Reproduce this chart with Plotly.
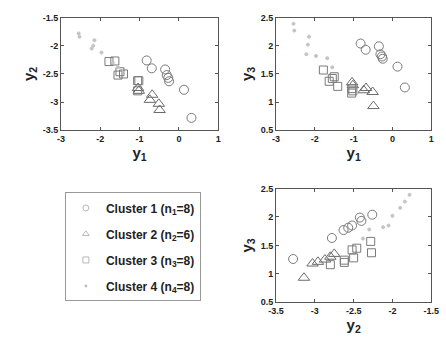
import plotly.graph_objects as go

# ---- data (y1, y2, y3) per cluster ----
c1_y1 = [-0.82, -0.69, -0.35, -0.31, -0.27, -0.25, 0.13, 0.32]
c1_y2 = [-2.26, -2.40, -2.42, -2.52, -2.57, -2.63, -2.78, -3.28]
c1_y3 = [2.04, 1.93, 1.99, 1.85, 1.81, 1.77, 1.63, 1.26]

c2_y1 = [-0.49, -0.51, -0.74, -0.68, -1.04, -1.02]
c2_y2 = [-3.14, -3.03, -2.96, -2.87, -2.75, -2.80]
c2_y3 = [0.93, 1.18, 1.21, 1.25, 1.35, 1.30]

c3_y1 = [-1.78, -1.63, -1.41, -1.50, -1.05, -1.05, -1.55, -1.02]
c3_y2 = [-2.28, -2.27, -2.50, -2.46, -2.62, -2.80, -2.52, -2.62]
c3_y3 = [1.57, 1.37, 1.28, 1.45, 1.24, 1.16, 1.42, 1.20]

c4_y1 = [-2.55, -2.53, -2.15, -2.18, -2.22, -1.97, -1.68, -1.55]
c4_y2 = [-1.78, -1.84, -1.90, -2.00, -2.05, -2.12, -2.30, -2.38]
c4_y3 = [2.39, 2.27, 2.16, 2.02, 1.85, 1.82, 1.78, 1.62]

legend_names = ["Cluster 1 (n<sub>1</sub>=8)", "Cluster 2 (n<sub>2</sub>=6)",
                "Cluster 3 (n<sub>3</sub>=8)", "Cluster 4 (n<sub>4</sub>=8)"]

y1_ticks = [-3, -2, -1, 0, 1]
y1_text = ["-3", "-2", "-1", "0", "1"]
y2_ticks = [-3.5, -3, -2.5, -2, -1.5]
y2_text = ["-3.5", "-3", "-2.5", "-2", "-1.5"]
y3_ticks = [0.5, 1, 1.5, 2, 2.5]
y3_text = ["0.5", "1", "1.5", "2", "2.5"]

clusters = [
    (c1_y1, c1_y2, c1_y3, "circle-open", 9, "#7a7a7a"),
    (c2_y1, c2_y2, c2_y3, "triangle-up-open", 10, "#6a6a6a"),
    (c3_y1, c3_y2, c3_y3, "square-open", 8, "#7a7a7a"),
    (c4_y1, c4_y2, c4_y3, "circle", 3, "#c4c4c4"),
]

fig = go.Figure()
panels = [("x", "y", 0, 1), ("x2", "y2", 0, 2), ("x3", "y3", 1, 2)]
for (a, b, c, sym, sz, col) in clusters:
    dims = [a, b, c]
    for xa, ya, i, j in panels:
        fig.add_trace(go.Scatter(
            x=dims[i], y=dims[j], mode="markers", xaxis=xa, yaxis=ya,
            marker=dict(symbol=sym, size=sz, color=col, line=dict(color=col, width=1)),
            showlegend=False, hoverinfo="skip"))

# legend-only entries (smaller, lighter markers like the reference)
leg_syms = ["circle-open", "triangle-up-open", "square-open", "circle"]
for k, (name, sym) in enumerate(zip(legend_names, leg_syms)):
    fig.add_trace(go.Scatter(
        x=[None], y=[None], mode="markers", name=name, legendgroup=str(k),
        marker=dict(symbol=sym, size=6 if k < 3 else 2, color="#b8b8b8",
                    line=dict(color="#b8b8b8", width=1))))

font_tick = dict(family="Liberation Sans, Arial", size=9, color="#222", weight="bold")
font_title = dict(family="Liberation Sans, Arial", size=15, color="#222", weight="bold")

def ax(domain, rng, tv, tt, title, anchor):
    return dict(domain=domain, range=rng, tickvals=tv, ticktext=tt, anchor=anchor,
                showgrid=False, zeroline=False, showline=True, mirror="ticks",
                linecolor="#555", linewidth=1, ticks="inside", ticklen=3,
                tickcolor="#555", tickfont=font_tick,
                title=dict(text=title, font=font_title, standoff=4))

xd1 = [55/446, 218/446]
xd2 = [278/446, 439/446]
yd1 = [1-129/347, 1-13/347]
yd3 = [1-306/347, 1-189/347]

fig.update_layout(
    width=446, height=347, margin=dict(l=0, r=0, t=0, b=0),
    paper_bgcolor="white", plot_bgcolor="white",
    xaxis=ax(xd1, [-3, 1], y1_ticks, y1_text, "y<sub>1</sub>", "y"),
    yaxis=ax(yd1, [-3.5, -1.5], y2_ticks, y2_text, "y<sub>2</sub>", "x"),
    xaxis2=ax(xd2, [-3, 1], y1_ticks, y1_text, "y<sub>1</sub>", "y2"),
    yaxis2=ax(yd1, [0.5, 2.5], y3_ticks, y3_text, "y<sub>3</sub>", "x2"),
    xaxis3=ax(xd2, [-3.5, -1.5], y2_ticks, y2_text, "y<sub>2</sub>", "y3"),
    yaxis3=ax(yd3, [0.5, 2.5], y3_ticks, y3_text, "y<sub>3</sub>", "x3"),
    legend=dict(x=59/446, y=1-193/347, xanchor="left", yanchor="top",
                bordercolor="#999", borderwidth=1, tracegroupgap=7,
                font=dict(family="Liberation Sans, Arial", size=12, color="#222", weight="bold"),
                itemsizing="trace", bgcolor="white"),
)

fig.write_html("out.html")
